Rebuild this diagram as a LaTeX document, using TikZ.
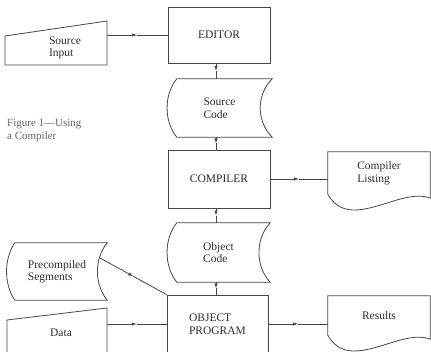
\documentclass[tikz,border=0pt]{standalone}
\usepackage{fontspec}
\setmainfont{Liberation Serif}
\usetikzlibrary{arrows.meta,calc}

% outline of a stored-data symbol drawn round a frame node
\newcommand\storedshape[3]{%
  \draw[ink] ($(#1.north west)+(#2,0)$) -- (#1.north east)
    .. controls +(-#3,16) and +(-#3,-16) .. (#1.south east)
    -- ($(#1.south west)+(#2,0)$)
    .. controls +(-#2-3,-16) and +(-#2-3,16) .. ($(#1.north west)+(#2,0)$) -- cycle;}
% outline of a document symbol with a wavy lower edge
\newcommand\docshape[1]{%
  \draw[ink] (#1.south west) .. controls +(22,39) and +(-30,-12) .. ($(#1.south east)+(0,4)$)
    -- (#1.north east) -- (#1.north west) -- cycle;}
% connector with its arrowhead half way along
\newcommand\flowline[2]{%
  \draw[ink, -{Latex[length=5pt,width=3.4pt]}] #1 -- ($#1!0.5!#2$);
  \draw[ink] ($#1!0.5!#2$) -- #2;}

\begin{document}
\begin{tikzpicture}[x=1pt,y=-1pt,
  ink/.style={draw=black!72, line width=0.8pt},
  lbl/.style={text=black!82, font=\fontsize{11.5}{12.5}\selectfont, align=left, inner sep=0pt},
  procbox/.style={ink, lbl, rectangle, minimum width=102pt, minimum height=58pt},
  frame/.style={lbl, rectangle}]

\useasboundingbox (0,0) rectangle (431,351);
\fill[white] (0,0) rectangle (431,351);
\clip (0,0) rectangle (431,351);

% caption
\node[lbl, text=black!60, font=\fontsize{11}{13}\selectfont, anchor=north west] (caption)
  at (7,119) {Figure 1—Using\\a Compiler};

% process boxes
\node[procbox, minimum height=56pt] (editor) at (219,35) {EDITOR};
\node[procbox] (compiler) at (219,179) {COMPILER};
\node[procbox, minimum width=101pt] (objprog) at (217.5,324) {OBJECT\\PROGRAM};

% stored data
\node[frame, minimum width=105pt, minimum height=58pt] (srccode) at (219.5,108) {Source\\Code};
\storedshape{srccode}{10}{16}
\node[frame, minimum width=103pt, minimum height=59pt] (objcode) at (218.5,252.5) {Object\\Code};
\storedshape{objcode}{10}{15}
\node[frame, minimum width=100pt, minimum height=57pt] (precomp) at (57,271.5) {Precompiled\\Segments};
\storedshape{precomp}{8}{13}

% documents
\node[frame, minimum width=102pt, minimum height=42pt] (listing) at (379,173) {Compiler\\Listing};
\docshape{listing}
\node[frame, minimum width=102pt, minimum height=39pt] (results) at (379,315.5) {Results};
\docshape{results}

% manual input
\node[lbl] (srcin) at (65,48) {Source\\Input};
\draw[ink] (5,36) -- (107,21) -- (107,65) -- (5,65) -- cycle;
\coordinate (srcin-out) at (107,35);
\node[lbl] (data) at (61,333) {Data};
\draw[ink] (7,320) -- (107,308) -- (107,370) -- (7,370) -- cycle;
\coordinate (data-out) at (107,324);
\coordinate (precomp-out) at (100,258);

% connectors
\flowline{(srcin-out)}{(editor.west)}
\flowline{([xshift=-3pt]editor.south)}{([xshift=-3pt]editor.south |- srccode.north)}
\flowline{([xshift=-3pt]compiler.north |- srccode.south)}{([xshift=-3pt]compiler.north)}
\flowline{(compiler.east)}{(compiler.east -| listing.west)}
\flowline{([xshift=-3pt]compiler.south)}{([xshift=-3pt]compiler.south |- objcode.north)}
\flowline{([xshift=-1.5pt]objprog.north |- objcode.south)}{([xshift=-1.5pt]objprog.north)}
\flowline{(precomp-out)}{(objprog.north west)}
\flowline{(data-out)}{(objprog.west)}
\flowline{(objprog.east)}{(objprog.east -| results.west)}
\end{tikzpicture}
\end{document}
